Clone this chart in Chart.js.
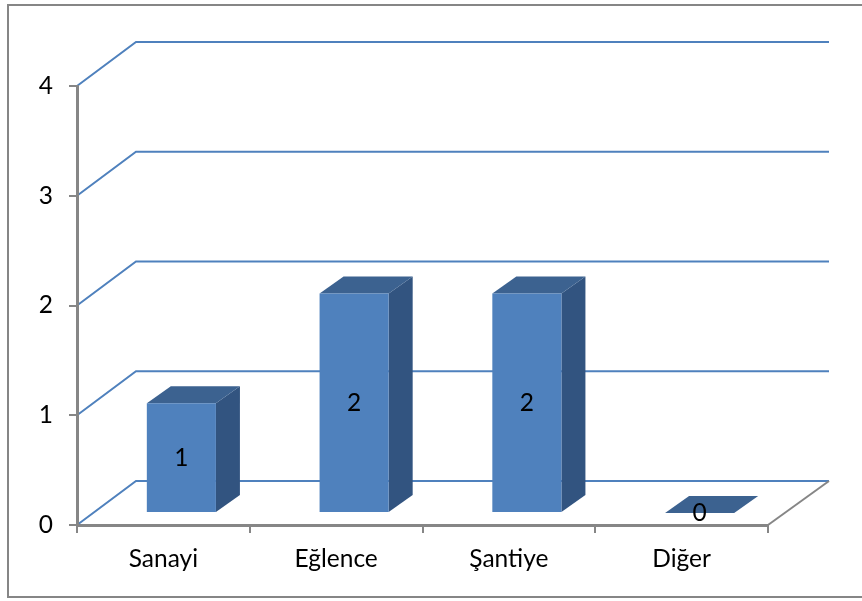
<!DOCTYPE html>
<html>
<head>
<meta charset="utf-8">
<style>
  html, body { margin: 0; padding: 0; background: #fff; }
  canvas { display: block; }
</style>
<script src="https://cdn.jsdelivr.net/npm/chart.js@4"></script>
</head>
<body>
<canvas id="chart" width="862" height="601"></canvas>
<script>
const categories = ["Sanayi", "Eğlence", "Şantiye", "Diğer"];
const values = [1, 2, 2, 0];
const yTicks = [0, 1, 2, 3, 4];

// fake 3d: wall sits up and right of the axes, bars sit part way along the floor
const wallDx = 59, wallDy = 44;
const barDx = 18, barDy = 12;
const sideDx = 24, sideDy = 17;

function poly(ctx, pts, color) {
    ctx.fillStyle = color;
    ctx.beginPath();
    pts.forEach((p, i) => (i ? ctx.lineTo(p[0], p[1]) : ctx.moveTo(p[0], p[1])));
    ctx.closePath();
    ctx.fill();
}

const wallPlugin = {
    id: "wall",
    beforeDraw(chart) {
        const ctx = chart.ctx;
        const { left, right, bottom } = chart.chartArea;
        const y = chart.scales.y;
        ctx.save();
        // frame, runs off the right edge like the screenshot
        ctx.strokeStyle = "#868686";
        ctx.lineWidth = 2;
        ctx.strokeRect(8, 5, 900, 592);
        ctx.strokeStyle = "#4f81bd";
        ctx.lineWidth = 2;
        yTicks.forEach((t) => {
            const py = y.getPixelForValue(t);
            ctx.beginPath();
            ctx.moveTo(left, py);
            ctx.lineTo(left + wallDx, py - wallDy);
            ctx.lineTo(right + wallDx + 2, py - wallDy);
            ctx.stroke();
        });
        ctx.strokeStyle = "#868686";
        ctx.lineWidth = 2;
        ctx.beginPath();
        ctx.moveTo(right, bottom);
        ctx.lineTo(right + wallDx + 2, bottom - wallDy);
        ctx.stroke();
        ctx.restore();
    },
    beforeDatasetsDraw(chart) {
        const ctx = chart.ctx;
        ctx.save();
        ctx.translate(barDx, -barDy);
        chart.getDatasetMeta(0).data.forEach((bar) => {
            const half = bar.width / 2;
            const l = bar.x - half, r = bar.x + half;
            poly(ctx, [[r, bar.y], [r + sideDx, bar.y - sideDy], [r + sideDx, bar.base - sideDy], [r, bar.base]], "#325480");
            poly(ctx, [[l, bar.y], [l + sideDx, bar.y - sideDy], [r + sideDx, bar.y - sideDy], [r, bar.y]], "#3c6290");
        });
    },
    afterDatasetsDraw(chart) {
        const ctx = chart.ctx;
        ctx.font = "24.5px Lato";
        ctx.fillStyle = "#000";
        ctx.textAlign = "center";
        ctx.textBaseline = "middle";
        chart.getDatasetMeta(0).data.forEach((bar, i) => {
            ctx.fillText(String(values[i]), bar.x, (bar.y + bar.base) / 2);
        });
        ctx.restore();
    },
};

new Chart(document.getElementById("chart").getContext("2d"), {
    type: "bar",
    data: {
        labels: categories,
        datasets: [
            {
                data: values,
                backgroundColor: "#4f81bd",
                borderWidth: 0,
                categoryPercentage: 1,
                barPercentage: 0.4,
            },
        ],
    },
    options: {
        responsive: false,
        animation: false,
        layout: { padding: { top: 86, right: 94, left: 0, bottom: 0 } },
        plugins: {
            legend: { display: false },
            title: { display: false },
            tooltip: { enabled: false },
        },
        scales: {
            x: {
                afterFit(scale) {
                    scale.height = 76;
                },
                grid: {
                    offset: true,
                    drawOnChartArea: false,
                    color: "#868686",
                    lineWidth: 2,
                    tickLength: 8,
                },
                border: { color: "#868686", width: 3 },
                ticks: {
                    color: "#000",
                    font: { family: "Lato", size: 24.5 },
                    padding: 11,
                    maxRotation: 0,
                    autoSkip: false,
                },
            },
            y: {
                min: 0,
                max: 4,
                afterFit(scale) {
                    scale.width = 77;
                },
                grid: {
                    drawOnChartArea: false,
                    color: "#868686",
                    lineWidth: 2,
                    tickLength: 8,
                },
                border: { color: "#868686", width: 3 },
                ticks: {
                    stepSize: 1,
                    color: "#000",
                    font: { family: "Lato", size: 24.5 },
                    padding: 16,
                },
            },
        },
    },
    plugins: [wallPlugin],
});
</script>
</body>
</html>
